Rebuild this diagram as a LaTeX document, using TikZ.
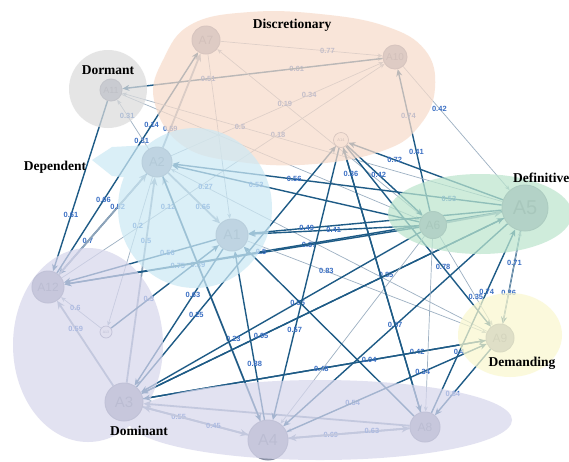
\documentclass[tikz,border=0pt]{standalone}
\usepackage{fontspec}
\setmainfont{Liberation Serif}
\newfontfamily\lblfont{Liberation Sans}
\usetikzlibrary{arrows.meta}
\pgfdeclarelayer{edgelayer}
\pgfdeclarelayer{ovl}
\pgfdeclarelayer{toplayer}
\pgfsetlayers{edgelayer,main,ovl,toplayer}
\definecolor{dk}{HTML}{1E5B86}
\definecolor{lt}{HTML}{9DB0C2}
\definecolor{ltb}{HTML}{8EA4BA}
\definecolor{lblc}{HTML}{3A6FC4}
\definecolor{nodefill}{HTML}{9BA1B5}
\definecolor{nodeedge}{HTML}{868CA2}
\definecolor{nodetext}{HTML}{737990}
\definecolor{peach}{HTML}{F8DCCB}
\definecolor{dormc}{HTML}{DCDCDC}
\definecolor{depc}{HTML}{CDE9F4}
\definecolor{defc}{HTML}{BDE6CE}
\definecolor{demc}{HTML}{FAF8CF}
\definecolor{domc}{HTML}{D8D7EC}
\newcommand{\nfs}[1]{\lblfont\fontsize{#1}{#1}\selectfont}
\tikzset{
 nd/.style={circle, fill=nodefill, draw=nodeedge, line width=1pt, inner sep=0pt, text=nodetext},
 ndsmall/.style={circle, fill=white!92!gray, draw=nodeedge, line width=0.7pt, inner sep=0pt, text=nodetext},
 ed/.style={draw=dk, line width=1.4pt, -{Stealth[length=7pt,width=6pt]}},
 el/.style={draw=lt, line width=0.7pt, -{Stealth[length=5pt,width=4pt]}},
 eb/.style={draw=ltb, line width=1.8pt, -{Stealth[length=8pt,width=7pt]}},
 lb/.style={font=\lblfont\bfseries\fontsize{7.5}{7.5}\selectfont, text=lblc, inner sep=0.5pt},
 grp/.style={font=\bfseries\fontsize{13.5}{14}\selectfont, text=black, inner sep=0pt},
 ov/.style={fill opacity=0.72},
}
\begin{document}
\begin{tikzpicture}[x=1pt,y=-1pt]
\useasboundingbox (0,0) rectangle (569,461);
\begin{pgfonlayer}{edgelayer}
\fill[white] (0,0) rectangle (569,461);
\end{pgfonlayer}

% nodes
\node[nd,minimum size=32pt,font=\nfs{14}] (A1) at (232,235) {A1};
\node[nd,minimum size=30pt,font=\nfs{13}] (A2) at (157,162) {A2};
\node[nd,minimum size=38pt,font=\nfs{15}] (A3) at (124,402) {A3};
\node[nd,minimum size=40pt,font=\nfs{16}] (A4) at (268,440) {A4};
\node[nd,minimum size=46pt,font=\nfs{20}] (A5) at (525,208) {A5};
\node[nd,minimum size=27pt,font=\nfs{12}] (A6) at (433,225) {A6};
\node[nd,minimum size=28pt,font=\nfs{12}] (A7) at (206,40) {A7};
\node[nd,minimum size=30pt,font=\nfs{12}] (A8) at (425,427) {A8};
\node[nd,minimum size=28pt,font=\nfs{12}] (A9) at (500,338) {A9};
\node[nd,minimum size=24pt,font=\nfs{10}] (A10) at (395,57) {A10};
\node[nd,minimum size=22pt,font=\nfs{9}] (A11) at (111,90) {A11};
\node[nd,minimum size=32pt,font=\nfs{12}] (A12) at (48,287) {A12};
\node[ndsmall,minimum size=12pt,font=\nfs{3.5}] (A13) at (106,332) {A13};
\node[ndsmall,minimum size=15pt,font=\nfs{4}] (A14) at (341,140) {A14};

\begin{pgfonlayer}{edgelayer}
\draw[el] (A7) -- node[lb,pos=.66]{0.77} (A10);
\draw[el] (A11) -- node[lb,pos=.67]{0.61} (A10);
\draw[ed] (A10) -- node[lb,pos=.67]{0.51} (A11);
\draw[el] (A2) -- node[lb,pos=.65]{0.34} (A10);
\draw[el] (A12) -- node[lb,pos=.33]{0.12} node[lb,pos=.67]{0.18} (A10);
\draw[ed] (A6) -- node[lb,pos=.42]{0.41} node[lb,pos=.67]{0.74} (A10);
\draw[el] (A10) -- node[lb,pos=.34]{0.42} (A5);
\draw[ed] (A12) -- node[lb,pos=.33]{0.66} node[lb,pos=.6]{0.31} node[lb,pos=.67]{0.14} (A7);
\draw[eb] (A2) -- node[lb,pos=.2]{0.59} (A7);
\draw[el] (A6) -- node[lb,pos=.67]{0.19} (A7);
\draw[el] (A7) -- (A1);
\draw[el] (A5) -- node[lb,pos=.69]{0.5} (A11);
\draw[el] (A11) -- (A6);
\draw[ed] (A11) -- node[lb,pos=.67]{0.61} (A12);
\draw[el] (A2) -- node[lb,pos=.68]{0.31} (A11);
\draw[eb] (A2) -- node[lb,pos=.67]{0.66} (A1);
\draw[ed] (A5) -- node[lb,pos=.16]{0.53} node[lb,pos=.63]{0.56} (A2);
\draw[ed] (A6) -- node[lb,pos=.66]{0.53} (A2);
\draw[el] (A9) -- node[lb,pos=.89]{0.27} (A2);
\draw[ed] (A2) -- node[lb,pos=.67]{0.7} (A12);
\draw[eb] (A12) -- node[lb,pos=.67]{0.52} (A2);
\draw[el] (A2) -- node[lb,pos=.33]{0.2} (A13);
\draw[eb] (A3) -- node[lb,pos=.69]{0.5} (A2);
\draw[eb] (A4) -- node[lb,pos=.64]{0.39} (A2);
\draw[ed] (A1) -- node[lb,pos=.32]{0.56} (A12);
\draw[ed] (A6) -- node[lb,pos=.31]{0.37} node[lb,pos=.68]{0.75} (A12);
\draw[ed] (A5) -- node[lb,pos=.55]{0.5} (A12);
\draw[ed] (A13) -- node[lb,pos=.35]{0.3} (A1);
\draw[eb] (A3) -- node[lb,pos=.67]{0.59} (A12);
\draw[el] (A13) -- node[lb,pos=.64]{0.6} (A12);
\draw[eb] (A3) -- node[lb,pos=.34]{0.55} (A4);
\draw[eb] (A4) -- node[lb,pos=.33]{0.45} (A3);
\draw[eb] (A4) -- node[lb,pos=.35]{0.69} (A8);
\draw[eb] (A8) -- node[lb,pos=.31]{0.63} (A4);
\draw[eb] (A8) -- (A3);
\draw[el] (A9) -- node[lb,pos=.67]{0.54} (A4);
\draw[ed] (A9) -- node[lb,pos=.68]{0.84} (A8);
\draw[ed] (A4) -- node[lb,pos=.68]{0.34} (A9);
\draw[ed] (A8) -- node[lb,pos=.33]{0.4} node[lb,pos=.66]{0.74} (A5);
\draw[ed] (A3) -- node[lb,pos=.8]{0.42} (A9);
\draw[ed] (A9) -- node[lb,pos=.34]{0.04} node[lb,pos=.48]{0.48} (A3);
\draw[ed] (A5) -- node[lb,pos=.67]{0.36} (A9);
\draw[el] (A9) -- node[lb,pos=.66]{0.71} (A5);
\draw[el] (A6) -- node[lb,pos=.68]{0.35} (A9);
\draw[ed] (A14) -- node[lb,pos=.67]{0.78} (A9);
\draw[el] (A1) -- node[lb,pos=.33]{0.83} (A9);
\draw[ed] (A3) -- node[lb,pos=.675]{0.85} (A5);
\draw[ed] (A5) -- node[lb,pos=.67]{0.95} (A3);
\draw[ed] (A6) -- node[lb,pos=.44]{0.95} node[lb,pos=.67]{0.23} (A3);
\draw[ed] (A1) -- node[lb,pos=.34]{0.63} (A3);
\draw[ed] (A3) -- node[lb,pos=.3]{0.25} (A14);
\draw[ed] (A4) -- node[lb,pos=.33]{0.88} (A1);
\draw[ed] (A2) -- (A4);
\draw[ed] (A14) -- node[lb,pos=.67]{0.57} (A4);
\draw[el] (A6) -- (A4);
\draw[ed] (A5) -- (A4);
\draw[ed] (A14) -- node[lb,pos=.67]{0.57} (A8);
\draw[ed] (A8) -- node[lb,pos=.9]{0.36} (A14);
\draw[ed] (A14) -- node[lb,pos=.42]{0.42} (A6);
\draw[ed] (A5) -- node[lb,pos=.7]{0.72} (A14);
\draw[ed] (A5) -- node[lb,pos=.77]{0.49} (A1);
\draw[ed] (A6) -- node[lb,pos=.5]{0.41} (A1);
\draw[eb] (A6) -- (A5);
\draw[ed] (A8) -- (A1);
\draw[el] (A6) -- (A8);
\end{pgfonlayer}

\begin{pgfonlayer}{ovl}
\fill[peach,ov] plot[smooth cycle, tension=0.7] coordinates {(154,100) (164,58) (192,24) (250,12) (320,14) (385,26) (425,50) (435,88) (420,125) (385,150) (315,164) (240,162) (182,145)};
\fill[dormc,ov] (108,89) circle [radius=39pt];
\fill[depc,ov] (195,208) ellipse [x radius=77pt, y radius=80pt]
  (92,160) -- (112,176) -- (150,180) -- (150,145) -- (112,147) -- cycle;
\fill[defc,ov] (480,214) ellipse [x radius=92pt, y radius=40pt];
\fill[demc,ov] (510,335) ellipse [x radius=52pt, y radius=42pt];
\fill[domc,ov] (88,345) ellipse [x radius=75pt, y radius=97pt]
  (320,420) ellipse [x radius=192pt, y radius=40pt];
\end{pgfonlayer}

\begin{pgfonlayer}{toplayer}
\node[grp] (tDisc) at (292,25) {Discretionary};
\node[grp] (tDorm) at (108,70) {Dormant};
\node[grp] (tDep) at (55,167) {Dependent};
\node[grp,anchor=west] (tDef) at (513,178) {Definitive};
\node[grp] (tDem) at (522,363) {Demanding};
\node[grp] (tDom) at (139,431) {Dominant};
\end{pgfonlayer}
\end{tikzpicture}
\end{document}
